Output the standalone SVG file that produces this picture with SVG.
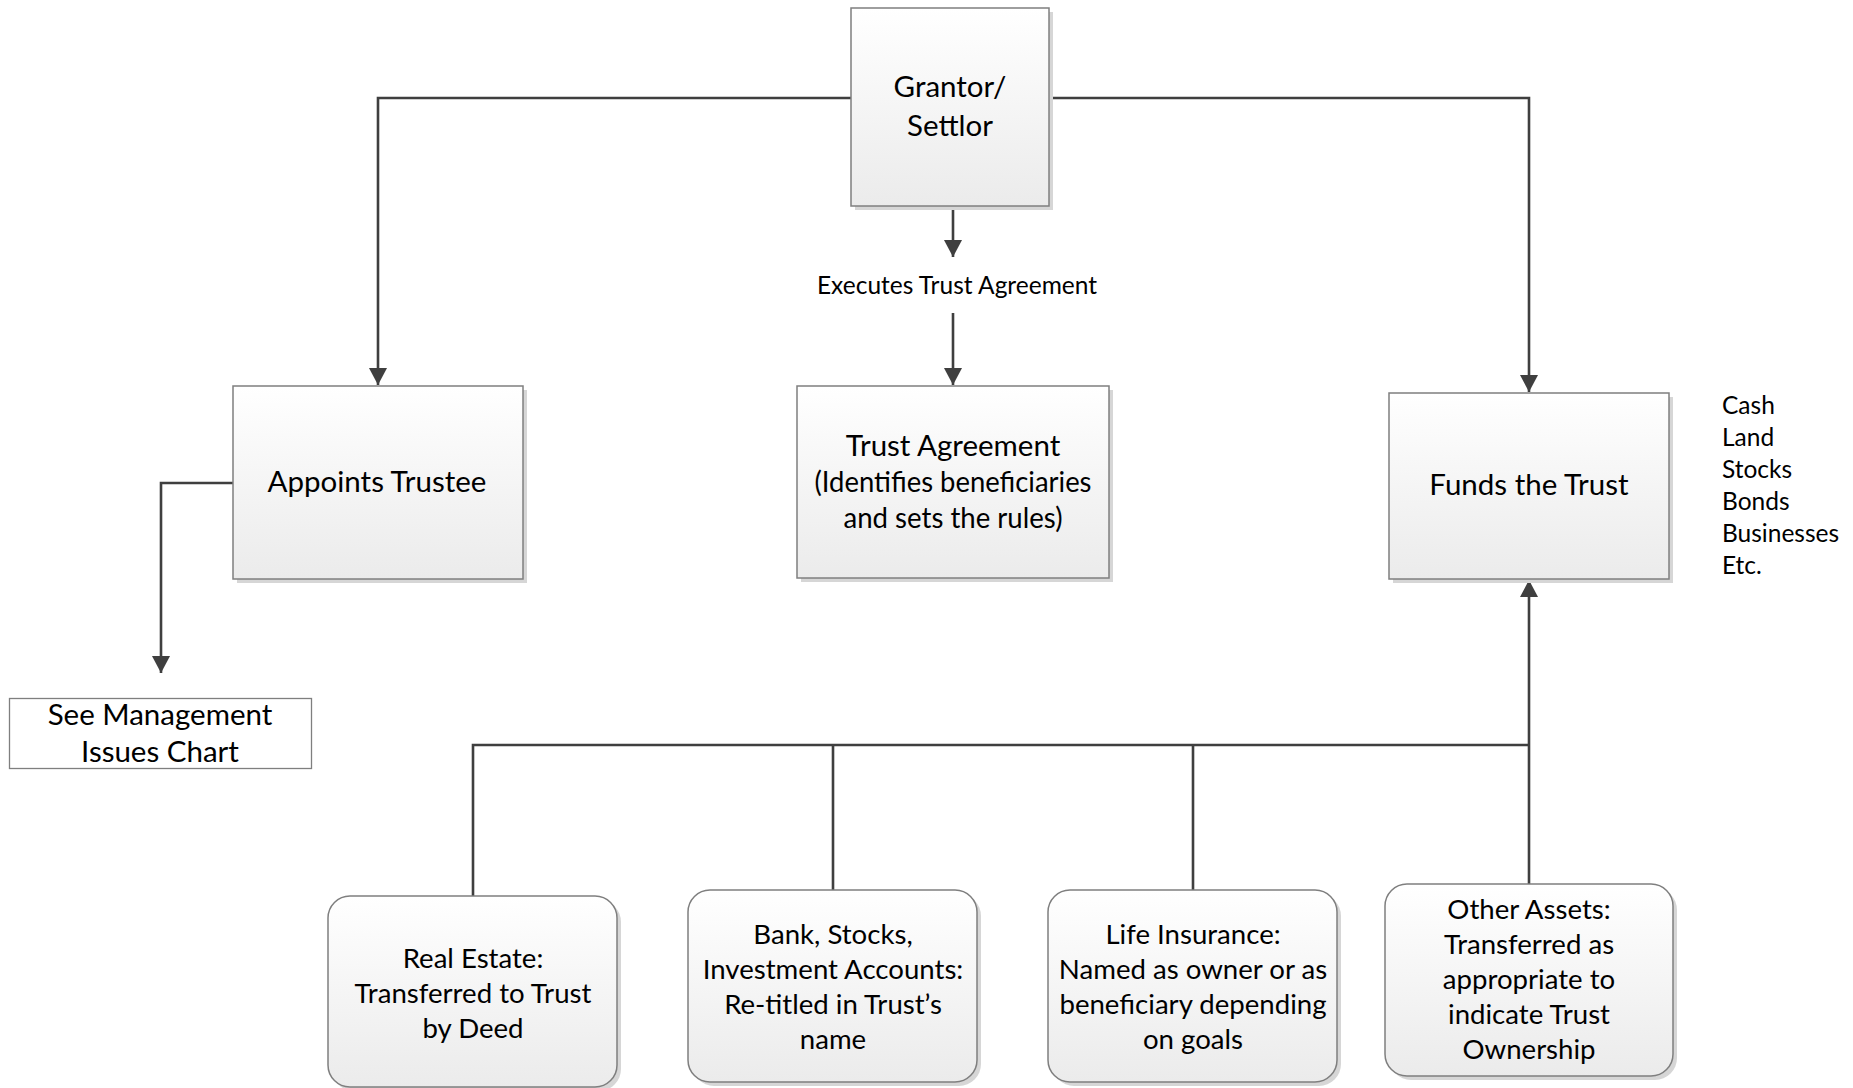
<svg xmlns="http://www.w3.org/2000/svg" width="1853" height="1088" viewBox="0 0 1853 1088">
  <style>
    .box { stroke: #7f7f7f; stroke-width: 1.5; fill: url(#boxFill); }
    .shadow { fill: #d6d6d6; }
    .plain { stroke: #7f7f7f; stroke-width: 1.3; fill: #ffffff; }
    .wire { stroke: #3f3f3f; stroke-width: 2.6; fill: none; }
    text { font-family: Lato, "Liberation Sans", sans-serif; fill: #000000; text-anchor: middle; }
    .lg { font-size: 29.5px; }
    .md { font-size: 27.6px; }
    .sm { font-size: 24.5px; }
    .list { text-anchor: start; }
  </style>
  <defs>
    <linearGradient id="boxFill" x1="0" y1="0" x2="0" y2="1">
      <stop offset="0" stop-color="#ffffff"/>
      <stop offset="1" stop-color="#ebebeb"/>
    </linearGradient>
    <marker id="arrow" markerUnits="userSpaceOnUse" markerWidth="18" markerHeight="18" refX="17" refY="9" orient="auto">
      <path d="M0,0 L17,9 L0,18 Z" fill="#3f3f3f"/>
    </marker>
  </defs>

  <rect width="1853" height="1088" fill="#ffffff"/>

  <!-- connectors -->
  <g id="connectors">
    <polyline class="wire" points="851,98 378,98 378,385" marker-end="url(#arrow)"/>
    <polyline class="wire" points="1049,98 1529,98 1529,392" marker-end="url(#arrow)"/>
    <line class="wire" x1="953" y1="206" x2="953" y2="257" marker-end="url(#arrow)"/>
    <line class="wire" x1="953" y1="313" x2="953" y2="385" marker-end="url(#arrow)"/>
    <polyline class="wire" points="233,483 161,483 161,673" marker-end="url(#arrow)"/>
    <polyline class="wire" points="473,896 473,745 1529,745"/>
    <line class="wire" x1="833" y1="745" x2="833" y2="890"/>
    <line class="wire" x1="1193" y1="745" x2="1193" y2="890"/>
    <line class="wire" x1="1529" y1="884" x2="1529" y2="745"/>
    <line class="wire" x1="1529" y1="745" x2="1529" y2="580" marker-end="url(#arrow)"/>
    <text class="sm" x="957" y="294">Executes Trust Agreement</text>
  </g>

  <!-- top row -->
  <g id="grantor">
    <rect class="shadow" x="855" y="12" width="198" height="198"/>
    <rect class="box" x="851" y="8" width="198" height="198"/>
    <text class="lg" x="950" y="97">Grantor/</text>
    <text class="lg" x="950" y="136">Settlor</text>
  </g>

  <g id="appoints-trustee">
    <rect class="shadow" x="237" y="390" width="290" height="193"/>
    <rect class="box" x="233" y="386" width="290" height="193"/>
    <text class="lg" x="377" y="492">Appoints Trustee</text>
  </g>

  <g id="trust-agreement">
    <rect class="shadow" x="801" y="390" width="312" height="192"/>
    <rect class="box" x="797" y="386" width="312" height="192"/>
    <text class="lg" x="953" y="456">Trust Agreement</text>
    <text class="lg" x="953" y="492" textLength="277" lengthAdjust="spacingAndGlyphs">(Identifies beneficiaries</text>
    <text class="lg" x="953" y="528" textLength="219" lengthAdjust="spacingAndGlyphs">and sets the rules)</text>
  </g>

  <g id="funds-trust">
    <rect class="shadow" x="1393" y="397" width="280" height="186"/>
    <rect class="box" x="1389" y="393" width="280" height="186"/>
    <text class="lg" x="1529" y="495">Funds the Trust</text>
  </g>

  <g id="asset-list">
    <text class="sm list" x="1722" y="414">Cash</text>
    <text class="sm list" x="1722" y="446">Land</text>
    <text class="sm list" x="1722" y="478">Stocks</text>
    <text class="sm list" x="1722" y="510">Bonds</text>
    <text class="sm list" x="1722" y="542">Businesses</text>
    <text class="sm list" x="1722" y="574">Etc.</text>
  </g>

  <g id="management-chart">
    <rect class="plain" x="9.5" y="698.5" width="302" height="70"/>
    <text class="lg" x="160" y="725">See Management</text>
    <text class="lg" x="160" y="762">Issues Chart</text>
  </g>

  <!-- asset boxes -->
  <g id="real-estate">
    <rect class="shadow" x="332" y="900" width="289" height="191" rx="22"/>
    <rect class="box" x="328" y="896" width="289" height="191" rx="22"/>
    <text class="md" x="473" y="968">Real Estate:</text>
    <text class="md" x="473" y="1003">Transferred to Trust</text>
    <text class="md" x="473" y="1038">by Deed</text>
  </g>

  <g id="bank-stocks">
    <rect class="shadow" x="692" y="894" width="289" height="192" rx="22"/>
    <rect class="box" x="688" y="890" width="289" height="192" rx="22"/>
    <text class="md" x="833" y="944">Bank, Stocks,</text>
    <text class="md" x="833" y="979">Investment Accounts:</text>
    <text class="md" x="833" y="1014">Re-titled in Trust’s</text>
    <text class="md" x="833" y="1049">name</text>
  </g>

  <g id="life-insurance">
    <rect class="shadow" x="1052" y="894" width="289" height="192" rx="22"/>
    <rect class="box" x="1048" y="890" width="289" height="192" rx="22"/>
    <text class="md" x="1193" y="944">Life Insurance:</text>
    <text class="md" x="1193" y="979">Named as owner or as</text>
    <text class="md" x="1193" y="1014">beneficiary depending</text>
    <text class="md" x="1193" y="1049">on goals</text>
  </g>

  <g id="other-assets">
    <rect class="shadow" x="1389" y="888" width="288" height="192" rx="22"/>
    <rect class="box" x="1385" y="884" width="288" height="192" rx="22"/>
    <text class="md" x="1529" y="919">Other Assets:</text>
    <text class="md" x="1529" y="954">Transferred as</text>
    <text class="md" x="1529" y="989">appropriate to</text>
    <text class="md" x="1529" y="1024">indicate Trust</text>
    <text class="md" x="1529" y="1059">Ownership</text>
  </g>
</svg>
